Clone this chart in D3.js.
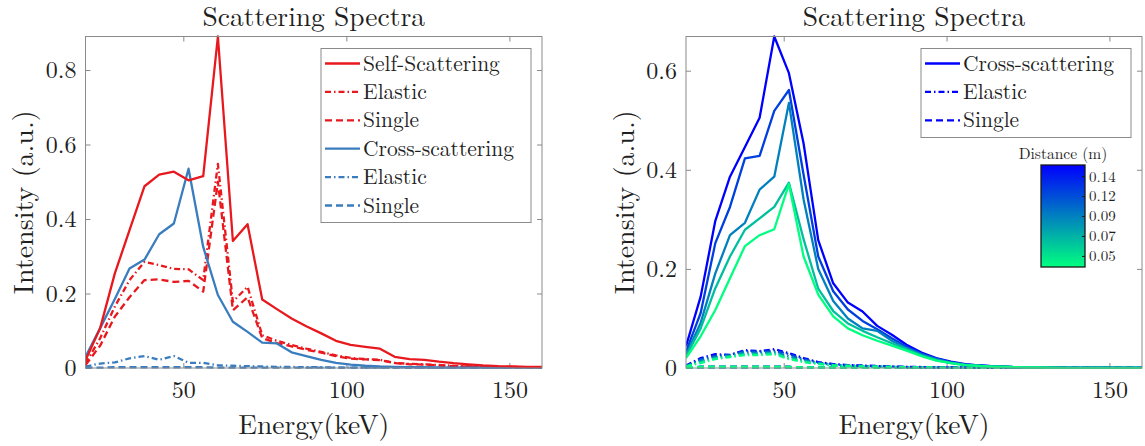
<!DOCTYPE html>
<html>
<head>
<meta charset="utf-8">
<script src="https://cdn.jsdelivr.net/npm/d3@7"></script>
<style>
  html, body { margin: 0; padding: 0; background: #fff; }
  svg { display: block; }
</style>
</head>
<body>
<svg id="chart" width="1145" height="446"></svg>
<script>
// ---------------- DATA ----------------
const energy = [20.0, 24.5, 29.0, 33.5, 38.1, 42.6, 47.1, 51.6, 56.1, 60.6, 65.2, 69.7, 74.2, 78.7, 83.2, 87.7,
                92.3, 96.8, 101.3, 105.8, 110.3, 114.8, 119.4, 123.9, 128.4, 132.9, 137.4, 141.9, 146.5, 151.0, 155.5, 160.0];

// Left panel
const selfTotal   = [0.021, 0.107, 0.254, 0.370, 0.488, 0.519, 0.527, 0.504, 0.515, 0.890, 0.341, 0.386, 0.184, 0.158, 0.133, 0.112,
                     0.093, 0.073, 0.062, 0.057, 0.052, 0.030, 0.024, 0.022, 0.017, 0.013, 0.010, 0.007, 0.005, 0.004, 0.003, 0.003];
const selfElastic = [0.012, 0.080, 0.165, 0.236, 0.285, 0.276, 0.266, 0.265, 0.236, 0.548, 0.178, 0.218, 0.088, 0.073, 0.062, 0.052,
                     0.043, 0.034, 0.027, 0.024, 0.022, 0.014, 0.011, 0.010, 0.008, 0.006, 0.005, 0.004, 0.003, 0.003, 0.002, 0.002];
const selfSingle  = [0.008, 0.060, 0.138, 0.190, 0.236, 0.238, 0.231, 0.234, 0.205, 0.500, 0.155, 0.190, 0.080, 0.067, 0.058, 0.049,
                     0.041, 0.032, 0.025, 0.023, 0.021, 0.013, 0.010, 0.009, 0.007, 0.005, 0.004, 0.003, 0.003, 0.002, 0.002, 0.002];
const crossTotal  = [0.030, 0.107, 0.185, 0.267, 0.291, 0.359, 0.388, 0.535, 0.325, 0.196, 0.124, 0.097, 0.068, 0.066, 0.042, 0.032,
                     0.022, 0.014, 0.009, 0.006, 0.004, 0.003, 0.002, 0.002, 0.001, 0.001, 0.001, 0.001, 0.001, 0.001, 0.001, 0.001];
const crossElastic= [0.004, 0.012, 0.015, 0.026, 0.032, 0.022, 0.032, 0.014, 0.014, 0.007, 0.006, 0.005, 0.004, 0.003, 0.003, 0.002,
                     0.002, 0.001, 0.001, 0.001, 0.001, 0.001, 0.001, 0.001, 0.001, 0.001, 0.001, 0.001, 0.001, 0.001, 0.001, 0.001];
const crossSingle = [0.001, 0.001, 0.002, 0.002, 0.002, 0.002, 0.002, 0.002, 0.002, 0.001, 0.001, 0.001, 0.001, 0.001, 0.001, 0.001,
                     0.001, 0.001, 0.001, 0.001, 0.001, 0.001, 0.001, 0.001, 0.001, 0.001, 0.001, 0.001, 0.001, 0.001, 0.001, 0.001];

// Right panel: cross-scattering by distance (m)
const distances = [0.14, 0.1175, 0.095, 0.0725, 0.05];
const crossTotal014 = [0.044, 0.144, 0.297, 0.386, 0.446, 0.505, 0.669, 0.595, 0.453, 0.258, 0.171, 0.132, 0.114, 0.085, 0.067, 0.047,
                       0.031, 0.020, 0.013, 0.008, 0.005, 0.003, 0.002, 0.001, 0.001, 0.001, 0.000, 0.000, 0.000, 0.000, 0.000, 0.000];
const crossTotal012 = [0.033, 0.111, 0.252, 0.325, 0.423, 0.428, 0.519, 0.561, 0.390, 0.225, 0.155, 0.118, 0.095, 0.078, 0.060, 0.043,
                       0.029, 0.019, 0.012, 0.007, 0.005, 0.003, 0.002, 0.001, 0.001, 0.001, 0.000, 0.000, 0.000, 0.000, 0.000, 0.000];
const crossTotal009 = [0.027, 0.091, 0.191, 0.268, 0.293, 0.360, 0.386, 0.535, 0.340, 0.200, 0.135, 0.100, 0.080, 0.075, 0.055, 0.040,
                       0.027, 0.018, 0.011, 0.007, 0.004, 0.003, 0.002, 0.001, 0.001, 0.001, 0.000, 0.000, 0.000, 0.000, 0.000, 0.000];
const crossTotal007 = [0.024, 0.080, 0.161, 0.225, 0.279, 0.302, 0.325, 0.374, 0.260, 0.160, 0.115, 0.090, 0.075, 0.062, 0.050, 0.038,
                       0.025, 0.016, 0.010, 0.006, 0.004, 0.003, 0.002, 0.001, 0.001, 0.001, 0.000, 0.000, 0.000, 0.000, 0.000, 0.000];
const crossTotal005 = [0.020, 0.064, 0.117, 0.181, 0.246, 0.268, 0.280, 0.371, 0.225, 0.148, 0.104, 0.080, 0.066, 0.055, 0.045, 0.035,
                       0.024, 0.015, 0.010, 0.006, 0.004, 0.002, 0.002, 0.001, 0.001, 0.000, 0.000, 0.000, 0.000, 0.000, 0.000, 0.000];
const crossElastic014 = [0.005, 0.020, 0.028, 0.026, 0.036, 0.034, 0.038, 0.030, 0.020, 0.012, 0.008, 0.006, 0.005, 0.004, 0.003, 0.002,
                         0.002, 0.001, 0.001, 0.001, 0.001, 0.000, 0.000, 0.000, 0.000, 0.000, 0.000, 0.000, 0.000, 0.000, 0.000, 0.000];
const crossElastic012 = [0.004, 0.018, 0.025, 0.027, 0.034, 0.033, 0.035, 0.028, 0.018, 0.011, 0.007, 0.005, 0.004, 0.003, 0.003, 0.002,
                         0.001, 0.001, 0.001, 0.001, 0.000, 0.000, 0.000, 0.000, 0.000, 0.000, 0.000, 0.000, 0.000, 0.000, 0.000, 0.000];
const crossElastic009 = [0.004, 0.015, 0.022, 0.025, 0.032, 0.030, 0.032, 0.024, 0.016, 0.010, 0.006, 0.005, 0.004, 0.003, 0.002, 0.002,
                         0.001, 0.001, 0.001, 0.000, 0.000, 0.000, 0.000, 0.000, 0.000, 0.000, 0.000, 0.000, 0.000, 0.000, 0.000, 0.000];
const crossElastic007 = [0.003, 0.012, 0.020, 0.024, 0.028, 0.028, 0.030, 0.020, 0.014, 0.009, 0.006, 0.004, 0.003, 0.003, 0.002, 0.001,
                         0.001, 0.001, 0.000, 0.000, 0.000, 0.000, 0.000, 0.000, 0.000, 0.000, 0.000, 0.000, 0.000, 0.000, 0.000, 0.000];
const crossElastic005 = [0.003, 0.010, 0.018, 0.022, 0.026, 0.026, 0.028, 0.018, 0.012, 0.008, 0.005, 0.004, 0.003, 0.002, 0.002, 0.001,
                         0.001, 0.001, 0.000, 0.000, 0.000, 0.000, 0.000, 0.000, 0.000, 0.000, 0.000, 0.000, 0.000, 0.000, 0.000, 0.000];
const crossSingleDist = [0.001, 0.002, 0.002, 0.002, 0.002, 0.002, 0.002, 0.002, 0.001, 0.001, 0.001, 0.001, 0.000, 0.000, 0.000, 0.000,
                         0.000, 0.000, 0.000, 0.000, 0.000, 0.000, 0.000, 0.000, 0.000, 0.000, 0.000, 0.000, 0.000, 0.000, 0.000, 0.000];

const xTicks = [50, 100, 150];
const yTicksLeft = [0, 0.2, 0.4, 0.6, 0.8];
const yTicksRight = [0, 0.2, 0.4, 0.6];
const cbTickValues = [0.05, 0.0725, 0.095, 0.1175, 0.14];
const cbTickLabels = ["0.05", "0.07", "0.09", "0.12", "0.14"];
const legendLeft = ["Self-Scattering", "Elastic", "Single", "Cross-scattering", "Elastic", "Single"];
const legendRight = ["Cross-scattering", "Elastic", "Single"];

// ---------------- STYLE ----------------
const FONT = "'Latin Modern Roman', 'CMU Serif', 'Liberation Serif', serif";
const TXT = "#1f1f1f";
const RED = "#e8191e", BLUE = "#3a7dbf";
const DASH = "7,4", DASHDOT = "6,3,1.5,3";
const LW = 2.3;
const AXIS = "#8a8a8a";
const winter = t => d3.rgb(0, Math.round(255 * (1 - t)), Math.round(255 * (0.5 + 0.5 * t)));
const distColor = d => winter((d - 0.05) / (0.14 - 0.05));

const svg = d3.select("#chart");
const Y0 = 368, Y1 = 36.5;

function styleText(sel, size) {
  return sel.style("font-family", FONT).attr("font-size", size).attr("fill", TXT);
}

function panel(x0, x1, yMax, yTicks, seriesList, idx) {
  const x = d3.scaleLinear().domain([20, 160]).range([x0, x1]);
  const y = d3.scaleLinear().domain([0, yMax]).range([Y0, Y1]);
  const g = svg.append("g");
  const clipId = "clip" + idx;
  svg.append("clipPath").attr("id", clipId).append("rect")
     .attr("x", x0).attr("y", Y1 - 2).attr("width", x1 - x0).attr("height", Y0 - Y1 + 3);

  const axB = g.append("g").attr("transform", `translate(0,${Y0})`)
    .call(d3.axisBottom(x).tickValues(xTicks).tickSizeInner(-5).tickSizeOuter(0).tickFormat(d3.format("d")));
  const axT = g.append("g").attr("transform", `translate(0,${Y1})`)
    .call(d3.axisTop(x).tickValues(xTicks).tickSizeInner(-5).tickSizeOuter(0).tickFormat(""));
  const axL = g.append("g").attr("transform", `translate(${x0},0)`)
    .call(d3.axisLeft(y).tickValues(yTicks).tickSizeInner(-5).tickSizeOuter(0).tickPadding(9)
          .tickFormat(d => d === 0 ? "0" : d3.format(".1f")(d)));
  const axR = g.append("g").attr("transform", `translate(${x1},0)`)
    .call(d3.axisRight(y).tickValues(yTicks).tickSizeInner(-5).tickSizeOuter(0).tickFormat(""));
  [axB, axT, axL, axR].forEach(a => {
    a.select(".domain").remove();
    a.selectAll("line").attr("stroke", AXIS);
    styleText(a.selectAll("text"), 24);
  });
  axB.selectAll("text").attr("y", 30).attr("dy", 0);
  axL.selectAll("text").attr("dy", "0.33em");

  const line = d3.line().x((d, i) => x(energy[i])).y(d => y(d));
  const lg = g.append("g").attr("clip-path", `url(#${clipId})`);
  seriesList.forEach(s => {
    lg.append("path").datum(s.values)
      .attr("d", line).attr("fill", "none")
      .attr("stroke", s.color).attr("stroke-width", LW)
      .attr("stroke-dasharray", s.dash || null)
      .attr("stroke-linejoin", "round");
  });

  g.append("rect").attr("x", x0).attr("y", Y1).attr("width", x1 - x0).attr("height", Y0 - Y1)
    .attr("fill", "none").attr("stroke", AXIS).attr("stroke-width", 1);

  const cx = (x0 + x1) / 2;
  styleText(g.append("text"), 27.5).attr("x", cx).attr("y", 26).attr("text-anchor", "middle").text("Scattering Spectra");
  styleText(g.append("text"), 27.5).attr("x", cx).attr("y", 434).attr("text-anchor", "middle").text("Energy(keV)");
  styleText(g.append("text"), 28).attr("transform", `translate(${x0 - 52.5},${(Y0 + Y1) / 2}) rotate(-90)`)
    .attr("text-anchor", "middle").text("Intensity (a.u.)");
  return { x, y, g };
}

// Left panel
panel(85.5, 542, 0.89, yTicksLeft, [
  { values: crossSingle, color: BLUE, dash: DASH },
  { values: crossElastic, color: BLUE, dash: DASHDOT },
  { values: selfSingle, color: RED, dash: DASH },
  { values: selfElastic, color: RED, dash: DASHDOT },
  { values: crossTotal, color: BLUE },
  { values: selfTotal, color: RED }
], 0);

// Right panel
const totalsByDist = [crossTotal014, crossTotal012, crossTotal009, crossTotal007, crossTotal005];
const elasticByDist = [crossElastic014, crossElastic012, crossElastic009, crossElastic007, crossElastic005];
const rightSeries = [];
distances.forEach(d => rightSeries.push({ values: crossSingleDist, color: distColor(d), dash: DASH }));
distances.forEach((d, k) => rightSeries.push({ values: elasticByDist[k], color: distColor(d), dash: DASHDOT }));
distances.forEach((d, k) => rightSeries.push({ values: totalsByDist[k], color: distColor(d) }));
panel(686, 1142, 0.669, yTicksRight, rightSeries, 1);

// Legends
function legend(bx, by, bw, bh, labels, styles) {
  const g = svg.append("g");
  g.append("rect").attr("x", bx).attr("y", by).attr("width", bw).attr("height", bh)
    .attr("fill", "#fff").attr("stroke", AXIS).attr("stroke-width", 1);
  labels.forEach((lab, i) => {
    const yy = by + 15 + i * 28.4;
    g.append("line").attr("x1", bx + 4).attr("x2", bx + 39).attr("y1", yy).attr("y2", yy)
      .attr("stroke", styles[i].color).attr("stroke-width", LW).attr("stroke-dasharray", styles[i].dash || null);
    styleText(g.append("text"), 21.5).attr("x", bx + 42).attr("y", yy).attr("dy", "0.33em").text(lab);
  });
}
legend(321, 48.5, 210, 174, legendLeft, [
  { color: RED }, { color: RED, dash: DASHDOT }, { color: RED, dash: DASH },
  { color: BLUE }, { color: BLUE, dash: DASHDOT }, { color: BLUE, dash: DASH }
]);
legend(921, 48.5, 210, 89, legendRight, [
  { color: distColor(0.14) }, { color: distColor(0.14), dash: DASHDOT }, { color: distColor(0.14), dash: DASH }
]);

// Colorbar
const cbX = 1041, cbW = 44, cbTop = 165, cbBot = 267;
const cbScale = d3.scaleLinear().domain([0.0375, 0.1525]).range([cbBot, cbTop]);
const defs = svg.append("defs");
const grad = defs.append("linearGradient").attr("id", "cbgrad").attr("x1", 0).attr("y1", 1).attr("x2", 0).attr("y2", 0);
d3.range(0, 1.0001, 0.1).forEach(t => grad.append("stop").attr("offset", t).attr("stop-color", winter(t)));
svg.append("rect").attr("x", cbX).attr("y", cbTop).attr("width", cbW).attr("height", cbBot - cbTop)
  .attr("fill", "url(#cbgrad)").attr("stroke", "#1a1a1a").attr("stroke-width", 1.3);
const cbAxis = svg.append("g").attr("transform", `translate(${cbX + cbW},0)`)
  .call(d3.axisRight(cbScale).tickValues(cbTickValues).tickSizeInner(-3).tickSizeOuter(0).tickPadding(4)
        .tickFormat((d, i) => cbTickLabels[i]));
cbAxis.select(".domain").remove();
cbAxis.selectAll("line").attr("stroke", "#1a1a1a");
styleText(cbAxis.selectAll("text"), 15).attr("dy", "0.33em");
styleText(svg.append("text"), 15.5).attr("x", cbX + cbW / 2).attr("y", 159).attr("text-anchor", "middle").text("Distance (m)");
</script>
</body>
</html>
